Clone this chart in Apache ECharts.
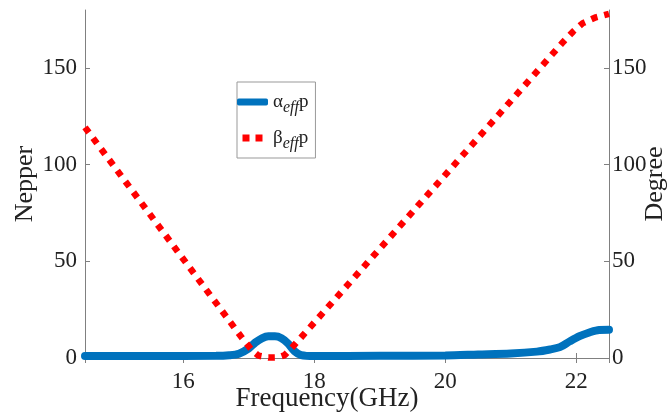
<!DOCTYPE html>
<html>
<head>
<meta charset="utf-8">
<script src="https://cdn.jsdelivr.net/npm/echarts@6/dist/echarts.min.js"></script>
<style>
  html, body { margin: 0; padding: 0; background: #fff; }
  #chart { width: 667px; height: 416px; }
</style>
</head>
<body>
<div id="chart"></div>
<script>
// alpha_eff * p (Nepper, left axis)
var freqAlpha = [14.5, 15.5, 16.5, 16.7, 16.85, 17.0, 17.1, 17.2, 17.3, 17.4, 17.5, 17.6, 17.7, 17.8, 18.0, 19.0, 20.0, 20.5, 21.0, 21.4, 21.6, 21.75, 21.9, 22.05, 22.2, 22.35, 22.5]
var alphaVals = [1.0, 1.0, 1.1, 1.4, 2.2, 5.0, 8.0, 10.2, 11.2, 11.2, 10.2, 7.5, 3.5, 1.5, 1.0, 1.1, 1.3, 1.8, 2.3, 3.3, 4.4, 5.6, 8.6, 11.3, 13.2, 14.5, 14.6]
// beta_eff * p (Degree, right axis)
var freqBeta = [14.5, 15.5, 16.5, 16.9, 17.05, 17.15, 17.3, 17.45, 17.55, 17.68, 18.5, 19.5, 20.5, 21.5, 21.8, 21.95, 22.1, 22.3, 22.5]
var betaVals = [119.3, 73.9, 28.5, 10.3, 4.0, 1.2, 0.2, 0.3, 1.5, 6.1, 37.4, 75.6, 113.8, 152.0, 163.5, 168.8, 173.2, 176.2, 178.0]

var legendText = {
  alpha: '{g|α}{s|eff}{g|p}',
  beta: '{g|β}{s|eff}{g|p}'
}

function pairs(xs, ys) {
  return xs.map(function (x, i) { return [x, ys[i]] })
}

var serif = 'Liberation Serif'
var axisGray = '#808080'

var chart = echarts.init(document.getElementById('chart'))
chart.setOption({
  animation: false,
  grid: { left: 85, right: 58, top: 10, bottom: 58, outerBoundsMode: 'none', containLabel: false },
  legend: {
    left: 237,
    top: 82,
    orient: 'vertical',
    padding: [6, 7, 6, 0],
    itemGap: 8,
    itemWidth: 31,
    itemHeight: 7,
    borderColor: '#999',
    borderWidth: 1,
    backgroundColor: '#fff',
    formatter: function (name) { return legendText[name] },
    textStyle: {
      rich: {
        g: { fontFamily: serif, fontSize: 19, color: '#222', lineHeight: 26 },
        s: { fontFamily: serif, fontSize: 16, fontStyle: 'italic', color: '#222', padding: [12, 0, 0, 0], lineHeight: 15 }
      }
    },
    data: [
      { name: 'alpha', icon: 'roundRect', itemStyle: { color: '#0072BD' } },
      { name: 'beta', icon: 'path://M0,0h7v7h-7z M13,0h7v7h-7z', itemStyle: { color: '#ff0000' } }
    ]
  },
  xAxis: [{
    type: 'value',
    min: 14.5,
    max: 22.5,
    name: 'Frequency(GHz)',
    nameLocation: 'middle',
    nameGap: 27,
    nameMoveOverlap: false,
    nameTextStyle: { fontFamily: serif, fontSize: 27, color: '#222', padding: [0, 40, 0, 0] },
    axisLine: { lineStyle: { color: axisGray } },
    axisTick: { inside: true, length: 5, lineStyle: { color: axisGray } },
    axisLabel: { showMinLabel: false, showMaxLabel: false, margin: 12, fontFamily: serif, fontSize: 23, color: '#222' },
    splitLine: { show: false }
  }, {
    type: 'value',
    position: 'top',
    min: 14.5,
    max: 22.5,
    axisLine: { show: true, lineStyle: { color: axisGray } },
    axisTick: { inside: true, length: 5, lineStyle: { color: axisGray } },
    axisLabel: { show: false },
    splitLine: { show: false }
  }],
  yAxis: [{
    type: 'value',
    min: 0,
    max: 180,
    interval: 50,
    name: 'Nepper',
    nameLocation: 'middle',
    nameRotate: 90,
    nameGap: 47,
    nameMoveOverlap: false,
    nameTextStyle: { fontFamily: serif, fontSize: 26, color: '#222' },
    axisLine: { show: true, lineStyle: { color: axisGray } },
    axisTick: { show: true, inside: true, length: 5, lineStyle: { color: axisGray } },
    axisLabel: { showMaxLabel: false, margin: 8, fontFamily: serif, fontSize: 23, color: '#222' },
    splitLine: { show: false }
  }, {
    type: 'value',
    position: 'right',
    min: 0,
    max: 180,
    interval: 50,
    name: 'Degree',
    nameLocation: 'middle',
    nameRotate: 90,
    nameGap: 33,
    nameMoveOverlap: false,
    nameTextStyle: { fontFamily: serif, fontSize: 26, color: '#222' },
    axisLine: { show: true, lineStyle: { color: axisGray } },
    axisTick: { show: true, inside: true, length: 5, lineStyle: { color: axisGray } },
    axisLabel: { showMaxLabel: false, margin: 3, fontFamily: serif, fontSize: 23, color: '#222' },
    splitLine: { show: false }
  }],
  series: [{
    name: 'alpha',
    type: 'line',
    yAxisIndex: 0,
    data: pairs(freqAlpha, alphaVals),
    showSymbol: false,
    smooth: 0.3,
    lineStyle: { color: '#0072BD', width: 8, cap: 'round' },
    itemStyle: { color: '#0072BD' }
  }, {
    name: 'beta',
    type: 'line',
    yAxisIndex: 1,
    data: pairs(freqBeta, betaVals),
    showSymbol: false,
    lineStyle: { color: '#ff0000', width: 6.5, type: [6.5, 7], cap: 'butt' },
    itemStyle: { color: '#ff0000' }
  }]
})
</script>
</body>
</html>
